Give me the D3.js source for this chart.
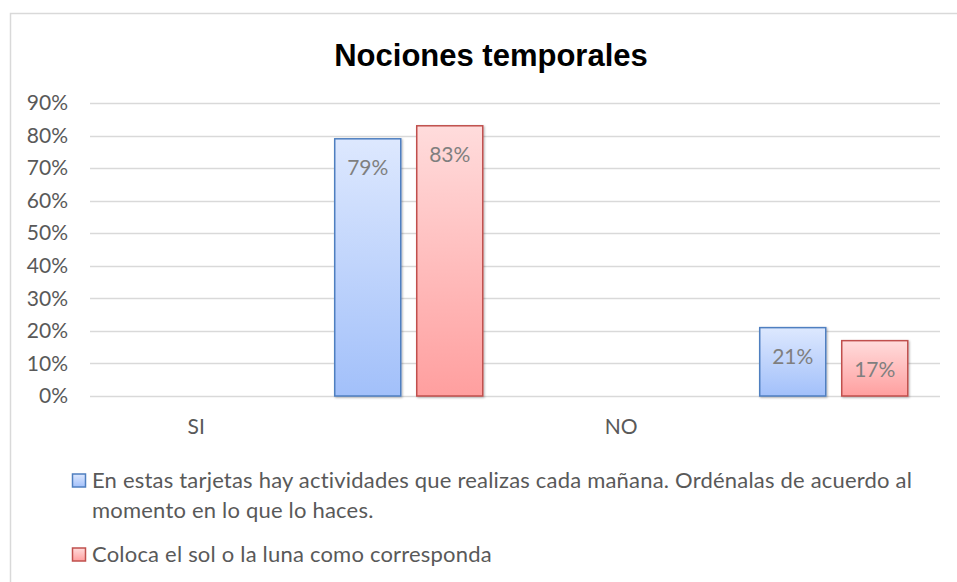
<!DOCTYPE html>
<html>
<head>
<meta charset="utf-8">
<script src="https://cdn.jsdelivr.net/npm/d3@7"></script>
<style>
  body { margin: 0; background: #fff; }
  svg text { font-family: Lato, "Open Sans", sans-serif; }
</style>
</head>
<body>
<div id="chart"></div>
<script>
// four category slots: the labelled ones carry no bars
const categories = ["SI", " ", "NO", "  "];
const seriesNames = [
  "En estas tarjetas hay actividades que realizas cada mañana. Ordénalas de acuerdo al momento en lo que lo haces.",
  "Coloca el sol o la luna como corresponda"
];
const seriesA = [null, 0.79, null, 0.21];
const seriesB = [null, 0.83, null, 0.17];
const yTicks = [0, 0.1, 0.2, 0.3, 0.4, 0.5, 0.6, 0.7, 0.8, 0.9];

const width = 957;
const height = 582;

const rows = categories.map((c, i) => ({ cat: c, values: [seriesA[i], seriesB[i]] }));

const svg = d3
  .select("#chart")
  .append("svg")
  .attr("width", width)
  .attr("height", height);

const defs = svg.append("defs");
const grads = [
  { id: "gBlue", top: "#dde8fe", bottom: "#a2c0fa", stroke: "#4f7fc0" },
  { id: "gRed", top: "#ffdcdc", bottom: "#ff9f9f", stroke: "#c0504d" }
];
grads.forEach((g) => {
  const lg = defs
    .append("linearGradient")
    .attr("id", g.id)
    .attr("x1", 0).attr("y1", 0).attr("x2", 0).attr("y2", 1);
  lg.append("stop").attr("offset", "0%").attr("stop-color", g.top);
  lg.append("stop").attr("offset", "100%").attr("stop-color", g.bottom);
});
defs
  .append("filter")
  .attr("id", "shadow")
  .attr("x", "-20%").attr("y", "-20%").attr("width", "140%").attr("height", "140%")
  .append("feDropShadow")
  .attr("dx", 1).attr("dy", 1).attr("stdDeviation", 1.2)
  .attr("flood-color", "#000").attr("flood-opacity", 0.3);

// chart frame
svg
  .append("rect")
  .attr("x", 10.5)
  .attr("y", 13.5)
  .attr("width", 960)
  .attr("height", 600)
  .attr("fill", "#fff")
  .attr("stroke", "#d9d9d9")
  .attr("stroke-width", 1.5);

svg
  .append("text")
  .attr("x", 491)
  .attr("y", 66)
  .attr("text-anchor", "middle")
  .style("font-family", "'Liberation Sans', Arial, sans-serif")
  .style("font-weight", "bold")
  .style("font-size", "31px")
  .attr("fill", "#000")
  .text("Nociones temporales");

const x = d3.scaleBand().domain(categories).range([90, 940]);
const x1 = d3
  .scaleBand()
  .domain([0, 1])
  .range([0, x.bandwidth()])
  .paddingInner(0.195)
  .paddingOuter(0.393);
const y = d3.scaleLinear().domain([0, 0.9]).range([396, 103]);

// gridlines
svg
  .append("g")
  .selectAll("line")
  .data(yTicks)
  .enter()
  .append("line")
  .attr("x1", 90)
  .attr("x2", 940)
  .attr("y1", (d) => Math.round(y(d)) + 0.5)
  .attr("y2", (d) => Math.round(y(d)) + 0.5)
  .attr("stroke", "#d9d9d9")
  .attr("stroke-width", 1.3);

const yAxis = svg
  .append("g")
  .attr("transform", "translate(68,0)")
  .call(d3.axisLeft(y).tickValues(yTicks).tickFormat(d3.format(".0%")).tickSize(0).tickPadding(0));
yAxis.select(".domain").remove();
yAxis
  .selectAll("text")
  .style("font-size", "21px")
  .style("font-family", "Lato, sans-serif")
  .attr("fill", "#595959");

// category labels
const xAxis = svg
  .append("g")
  .attr("transform", "translate(0,396)")
  .call(d3.axisBottom(x).tickSize(0).tickPadding(23));
xAxis.select(".domain").remove();
xAxis
  .selectAll("text")
  .style("font-size", "21px")
  .style("font-family", "Lato, sans-serif")
  .attr("fill", "#595959");

// bars
const group = svg
  .append("g")
  .selectAll("g")
  .data(rows)
  .enter()
  .append("g")
  .attr("transform", (d) => `translate(${x(d.cat)},0)`);

const cells = (d) =>
  d.values.map((v, i) => ({ v, i })).filter((c) => c.v !== null);

group
  .selectAll("rect")
  .data(cells)
  .enter()
  .append("rect")
  .attr("x", (d) => x1(d.i))
  .attr("y", (d) => y(d.v))
  .attr("width", x1.bandwidth())
  .attr("height", (d) => y(0) - y(d.v))
  .attr("fill", (d) => `url(#${grads[d.i].id})`)
  .attr("stroke", (d) => grads[d.i].stroke)
  .attr("stroke-width", 1.5)
  .attr("filter", "url(#shadow)");

group
  .selectAll("text")
  .data(cells)
  .enter()
  .append("text")
  .attr("x", (d) => x1(d.i) + x1.bandwidth() / 2)
  .attr("y", (d) => y(d.v) + 36)
  .attr("text-anchor", "middle")
  .style("font-size", "21px")
  .attr("fill", "#7f7f7f")
  .text((d) => d3.format(".0%")(d.v));

// legend
const legend = svg.append("g");
const legendRows = [
  { i: 0, lines: ["En estas tarjetas hay actividades que realizas cada mañana. Ordénalas de acuerdo al", "momento en lo que lo haces."], y: 488 },
  { i: 1, lines: [seriesNames[1]], y: 562 }
];
legendRows.forEach((r) => {
  legend
    .append("rect")
    .attr("x", 72.5)
    .attr("y", r.y - 14)
    .attr("width", 13)
    .attr("height", 13)
    .attr("fill", `url(#${grads[r.i].id})`)
    .attr("stroke", grads[r.i].stroke)
    .attr("stroke-width", 1.5);
  const t = legend
    .append("text")
    .attr("x", 92)
    .attr("y", r.y)
    .style("font-size", "22px")
    .style("letter-spacing", "0.2px")
    .attr("fill", "#595959");
  r.lines.forEach((line, k) => {
    t.append("tspan").attr("x", 92).attr("y", r.y + k * 30).text(line);
  });
});
</script>
</body>
</html>
